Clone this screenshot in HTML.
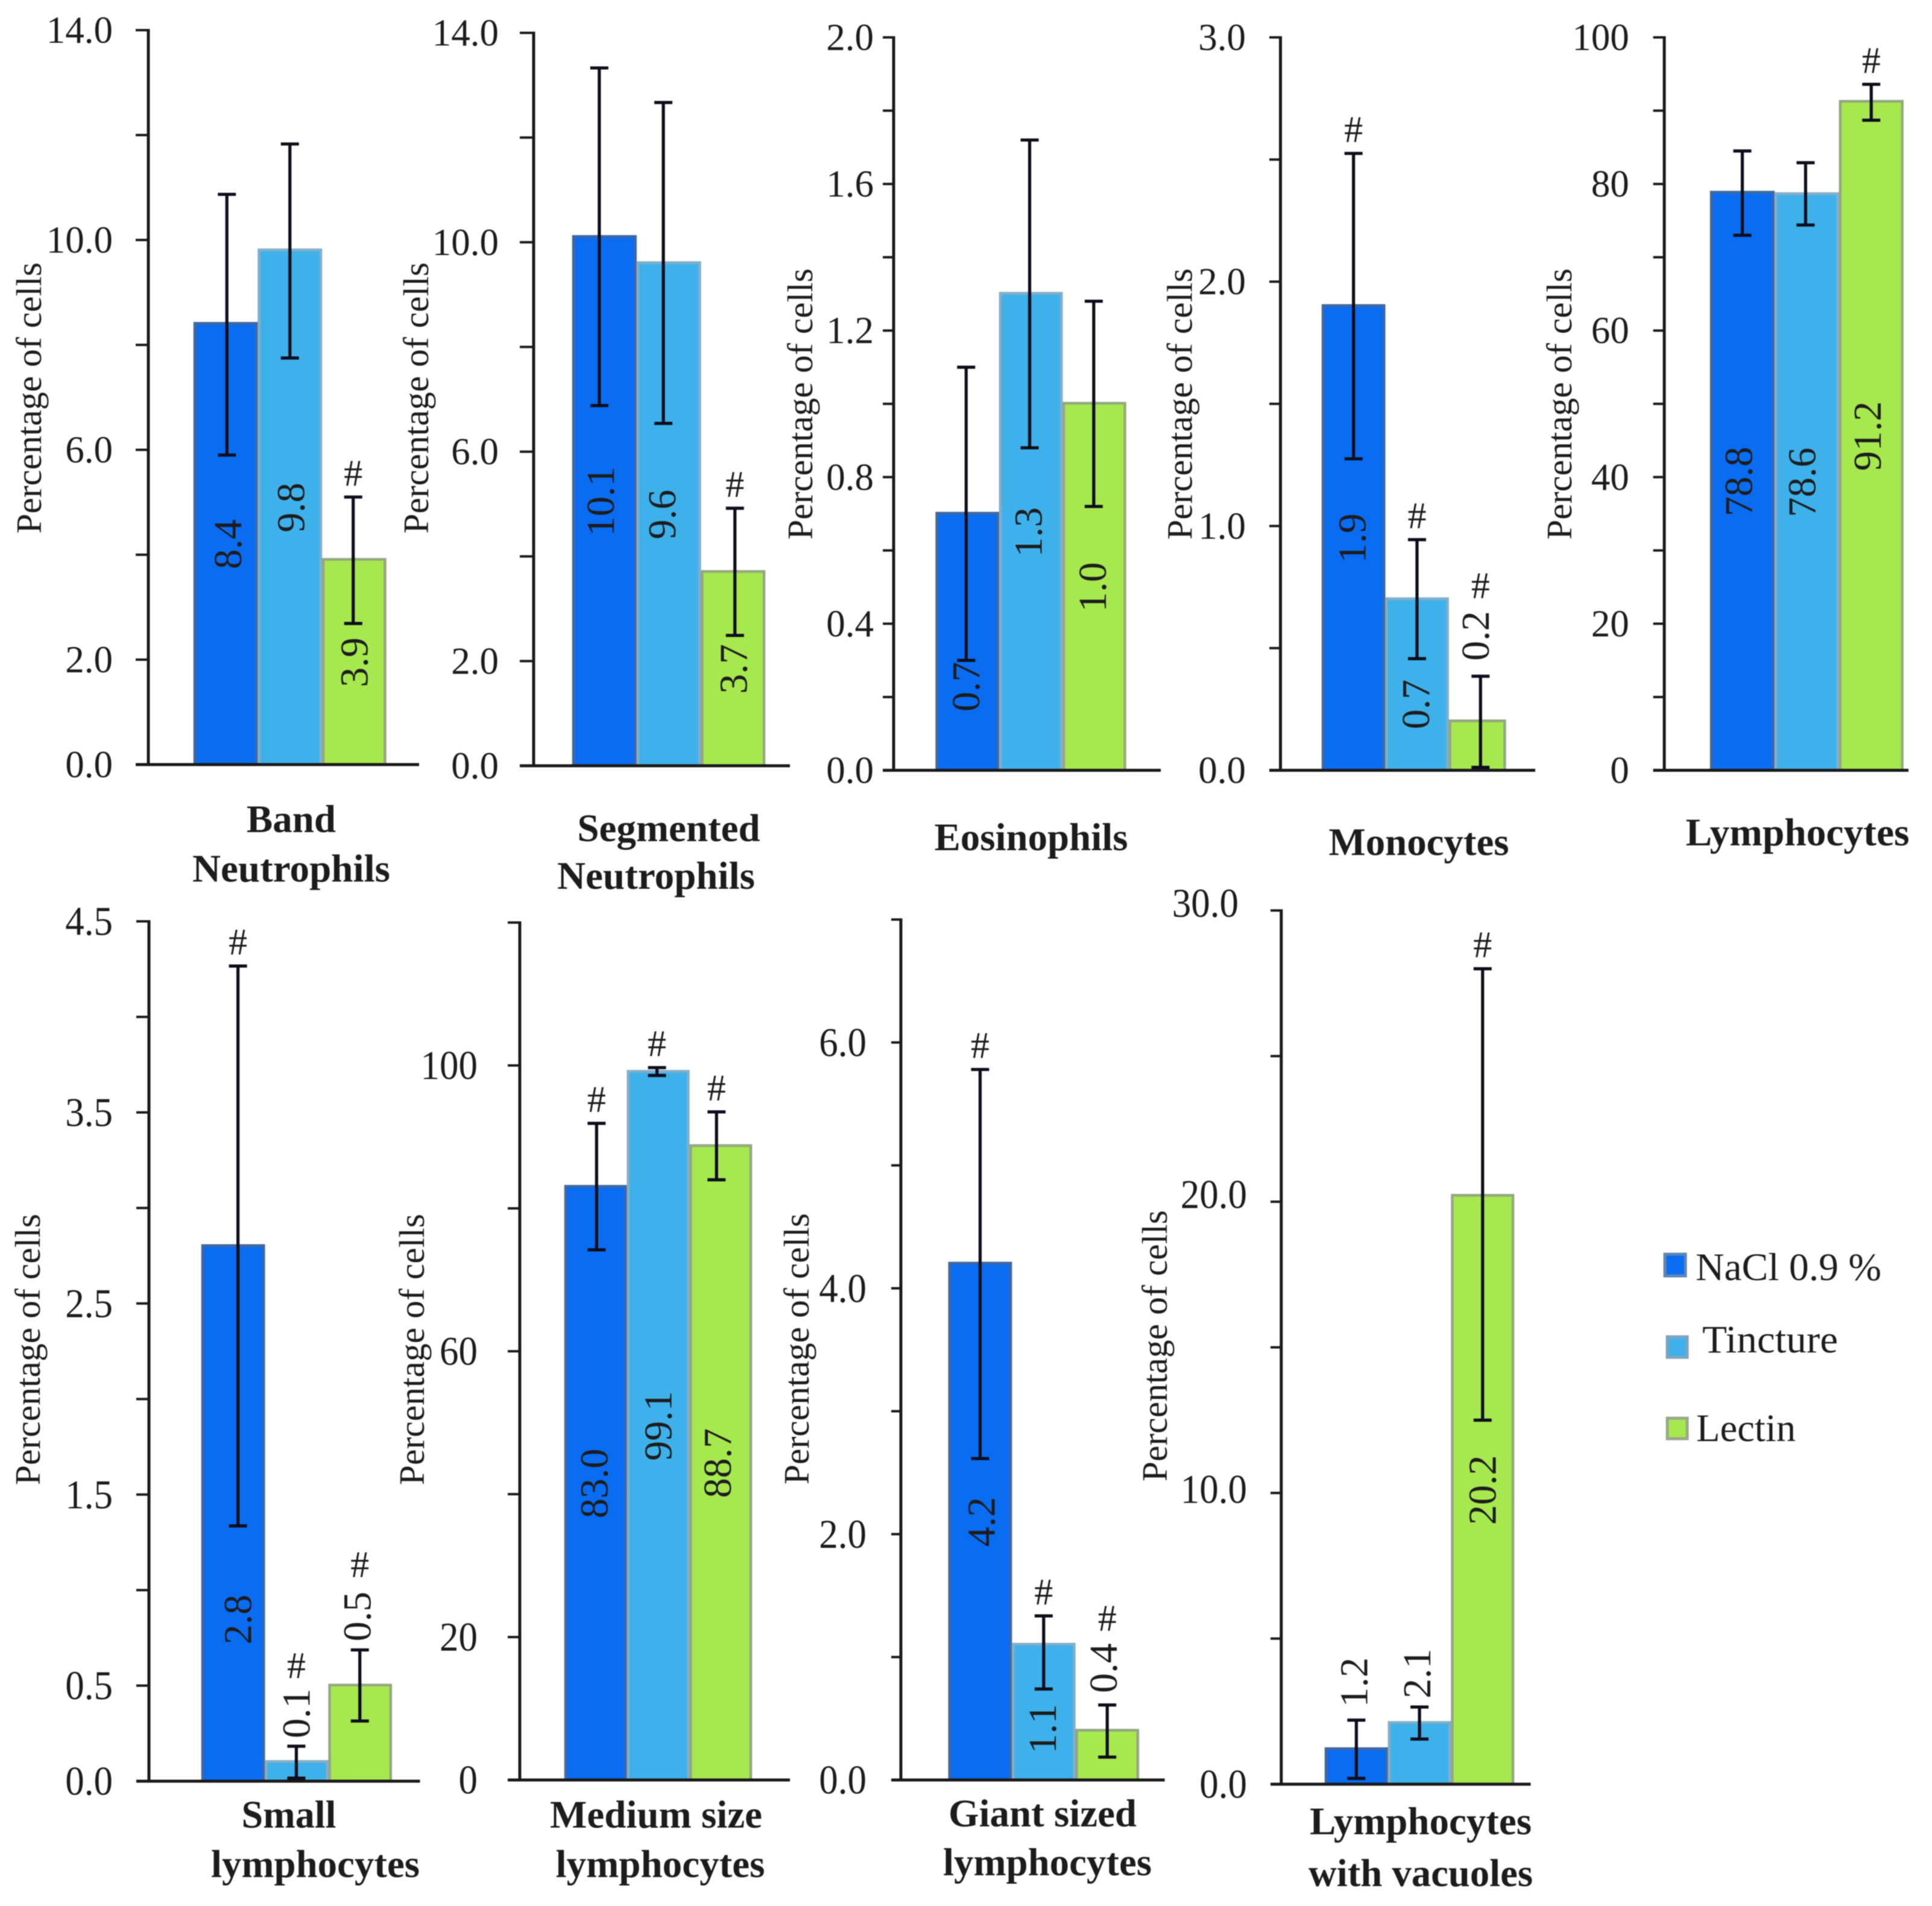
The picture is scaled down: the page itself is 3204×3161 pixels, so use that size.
<!DOCTYPE html>
<html lang="en">
<head>
<meta charset="utf-8">
<title>Percentage of leukocyte cell types by treatment</title>
<style>
html,body{margin:0;padding:0;background:#fff;width:3204px;height:3161px;overflow:hidden}
svg{display:block;filter:blur(.7px)}
text{font-family:"Liberation Serif",serif;fill:#1c1c1c}
</style>
</head>
<body>
<svg id="figure" xmlns="http://www.w3.org/2000/svg" width="3204" height="3161" viewBox="0 0 3204 3161">
  <rect x="0" y="0" width="3204" height="3161" fill="#ffffff"/>
  <g>
    <g>
      <rect x="2761" y="2080" width="34" height="36" fill="#0a6cf0" stroke="#5b86b8" stroke-width="5"/>
      <text x="2812" y="2123" font-size="65" textLength="308" lengthAdjust="spacingAndGlyphs">NaCl 0.9 %</text>
    </g>
    <g>
      <rect x="2765" y="2217" width="33" height="34" fill="#3fb1ea" stroke="#7fa3bd" stroke-width="5"/>
      <text x="2823" y="2243" font-size="65" textLength="225" lengthAdjust="spacingAndGlyphs">Tincture</text>
    </g>
    <g>
      <rect x="2765" y="2352" width="33" height="34" fill="#a6e84e" stroke="#98a98a" stroke-width="5"/>
      <text x="2813" y="2390" font-size="65" textLength="165" lengthAdjust="spacingAndGlyphs">Lectin</text>
    </g>
  </g>
</svg>
<script>
/* ---------- chart data ---------- */
const seriesNames = ['NaCl 0.9 %', 'Tincture', 'Lectin'];

const bandValues = [8.4, 9.8, 3.9];
const bandErrHigh = [10.87, 11.83, 5.1];
const bandErrLow = [5.9, 7.75, 2.69];
const bandTicks = [0, 2, 4, 6, 8, 10, 12, 14];
const bandTickLabels = ['0.0', '2.0', '', '6.0', '', '10.0', '', '14.0'];
const bandHash = [false, false, true];

const segmentedValues = [10.1, 9.6, 3.7];
const segmentedErrHigh = [13.33, 12.67, 4.92];
const segmentedErrLow = [6.88, 6.54, 2.49];
const segmentedTicks = [0, 2, 4, 6, 8, 10, 12, 14];
const segmentedTickLabels = ['0.0', '2.0', '', '6.0', '', '10.0', '', '14.0'];
const segmentedHash = [false, false, true];

const eosinophilValues = [0.7, 1.3, 1.0];
const eosinophilErrHigh = [1.1, 1.72, 1.28];
const eosinophilErrLow = [0.3, 0.88, 0.72];
const eosinophilTicks = [0, 0.2, 0.4, 0.6, 0.8, 1.0, 1.2, 1.4, 1.6, 1.8, 2.0];
const eosinophilTickLabels = ['0.0', '', '0.4', '', '0.8', '', '1.2', '', '1.6', '', '2.0'];
const eosinophilHash = [false, false, false];
const eosinophilLabelAt = [0.228, null, null];

const monocyteValues = [1.9, 0.7, 0.2];
const monocyteErrHigh = [2.525, 0.944, 0.385];
const monocyteErrLow = [1.275, 0.457, 0.012];
const monocyteTicks = [0, 0.5, 1, 1.5, 2, 2.5, 3];
const monocyteTickLabels = ['0.0', '', '1.0', '', '2.0', '', '3.0'];
const monocyteHash = [true, true, true];
const monocyteLabelAt = [null, 0.27, 0.55];
const monocyteHashAt = [null, null, 0.697];

const lymphocyteValues = [78.8, 78.6, 91.2];
const lymphocyteErrHigh = [84.5, 82.9, 93.6];
const lymphocyteErrLow = [73, 74.4, 88.7];
const lymphocyteTicks = [0, 10, 20, 30, 40, 50, 60, 70, 80, 90, 100];
const lymphocyteTickLabels = ['0', '', '20', '', '40', '', '60', '', '80', '', '100'];
const lymphocyteHash = [false, false, true];

const smallValues = [2.8, 0.1, 0.5];
const smallErrHigh = [4.266, 0.183, 0.687];
const smallErrLow = [1.336, 0.016, 0.315];
const smallTicks = [0, 0.5, 1, 1.5, 2, 2.5, 3, 3.5, 4, 4.5];
const smallTickLabels = ['0.0', '0.5', '', '1.5', '', '2.5', '', '3.5', '', '4.5'];
const smallHash = [true, true, true];
const smallLabelAt = [0.846, 0.355, 0.862];
const smallHashAt = [null, 0.53, 1.058];

const mediumValues = [83.0, 99.1, 88.7];
const mediumErrHigh = [91.9, 99.7, 93.5];
const mediumErrLow = [74.2, 98.6, 84];
const mediumTicks = [0, 20, 40, 60, 80, 100, 120];
const mediumTickLabels = ['0', '20', '', '60', '', '100', ''];
const mediumHash = [true, true, true];

const giantValues = [4.2, 1.1, 0.4];
const giantErrHigh = [5.78, 1.335, 0.61];
const giantErrLow = [2.615, 0.74, 0.186];
const giantTicks = [0, 1, 2, 3, 4, 5, 6, 7];
const giantTickLabels = ['0.0', '', '2.0', '', '4.0', '', '6.0', ''];
const giantHash = [true, true, true];
const giantLabelAt = [null, 0.417, 0.91];
const giantHashAt = [null, null, 1.2];

const vacuoleValues = [1.2, 2.1, 20.2];
const vacuoleErrHigh = [2.2, 2.65, 28.0];
const vacuoleErrLow = [0.2, 1.55, 12.5];
const vacuoleTicks = [0, 5, 10, 15, 20, 25, 30];
const vacuoleTickLabels = ['0.0', '', '10.0', '', '20.0', '', '30.0'];
const vacuoleHash = [false, false, true];
const vacuoleLabelAt = [3.5, 3.8, null];

/* ---------- panel layout (geometry only, values come from the arrays above) ---------- */
const panels = [
  {id:'band-neutrophils', values:bandValues, high:bandErrHigh, low:bandErrLow, ticks:bandTicks, tickLabels:bandTickLabels, hash:bandHash,
   axisX:246, top:50, base:1268, axisEnd:695, tickLeft:225, labelRight:187, barLeft:321, barStep:106.5, errDx:[2,0,-1.5], labelDx:[0,0,0], textSY:1,
   yLabelX:68, yLabelY:660, titles:[['Band',483,1380,null],['Neutrophils',483,1462,328]]},
  {id:'segmented-neutrophils', values:segmentedValues, high:segmentedErrHigh, low:segmentedErrLow, ticks:segmentedTicks, tickLabels:segmentedTickLabels, hash:segmentedHash,
   axisX:885, top:54.5, base:1270, axisEnd:1310, tickLeft:862, labelRight:827, barLeft:949, barStep:106.7, errDx:[-8.5,-9,3], labelDx:[0,-4,-4], textSY:1,
   yLabelX:710, yLabelY:660, titles:[['Segmented',1109,1395,null],['Neutrophils',1088,1474,328]]},
  {id:'eosinophils', values:eosinophilValues, high:eosinophilErrHigh, low:eosinophilErrLow, ticks:eosinophilTicks, tickLabels:eosinophilTickLabels, hash:eosinophilHash, labelAt:eosinophilLabelAt,
   axisX:1482, top:62, base:1277.5, axisEnd:1925, tickLeft:1464, labelRight:1449, barLeft:1551.6, barStep:105.3, errDx:[-2,-2,-1], labelDx:[-2,-4,-4], textSY:1,
   yLabelX:1347, yLabelY:670, titles:[['Eosinophils',1710,1410,321]]},
  {id:'monocytes', values:monocyteValues, high:monocyteErrHigh, low:monocyteErrLow, ticks:monocyteTicks, tickLabels:monocyteTickLabels, hash:monocyteHash, labelAt:monocyteLabelAt, hashAt:monocyteHashAt,
   axisX:2123.5, top:62, base:1277.5, axisEnd:2546, tickLeft:2105, labelRight:2066, barLeft:2192, barStep:105.3, barFrac:[1,1,0.9], errDx:[0,0,0], labelDx:[-4,-4,-10], textSY:1,
   yLabelX:1976.5, yLabelY:670, titles:[['Monocytes',2353,1418,299]]},
  {id:'lymphocytes', values:lymphocyteValues, high:lymphocyteErrHigh, low:lymphocyteErrLow, ticks:lymphocyteTicks, tickLabels:lymphocyteTickLabels, hash:lymphocyteHash,
   axisX:2760, top:62, base:1277.5, axisEnd:3165, tickLeft:2741.6, labelRight:2701.7, barLeft:2836, barStep:106.9, errDx:[0,-2,0], labelDx:[-8,-8,-8], textSY:1,
   yLabelX:2606, yLabelY:670, titles:[['Lymphocytes',2981,1402,371]]},
  {id:'small-lymphocytes', values:smallValues, high:smallErrHigh, low:smallErrLow, ticks:smallTicks, tickLabels:smallTickLabels, hash:smallHash, labelAt:smallLabelAt, hashAt:smallHashAt,
   axisX:247, top:1528, base:2954, axisEnd:696.5, tickLeft:226, labelRight:187, barLeft:334, barStep:105.3, errDx:[8,-0.5,-0.5], labelDx:[-2,-2,-6], textSY:1.08,
   yLabelX:66, yLabelY:2238, titles:[['Small',479,3031,157],['lymphocytes',523,3113,346]]},
  {id:'medium-lymphocytes', values:mediumValues, high:mediumErrHigh, low:mediumErrLow, ticks:mediumTicks, tickLabels:mediumTickLabels, hash:mediumHash,
   axisX:862, top:1530, base:2952, axisEnd:1310, tickLeft:842, labelRight:792, barLeft:936, barStep:103.7, errDx:[1.5,-2,-7], labelDx:[-6,0,0], textSY:1.08,
   yLabelX:703, yLabelY:2238, titles:[['Medium size',1088,3031,352],['lymphocytes',1095,3113,347]]},
  {id:'giant-lymphocytes', values:giantValues, high:giantErrHigh, low:giantErrLow, ticks:giantTicks, tickLabels:giantTickLabels, hash:giantHash, labelAt:giantLabelAt, hashAt:giantHashAt,
   axisX:1494, top:1525, base:2952, axisEnd:1931.6, tickLeft:1478, labelRight:1437, barLeft:1572.7, barStep:105.4, errDx:[0,0,0], labelDx:[0,-4,-8], textSY:1.08,
   yLabelX:1341, yLabelY:2237, titles:[['Giant sized',1729,3029,312],['lymphocytes',1737,3110,346]]},
  {id:'lymphocytes-with-vacuoles', values:vacuoleValues, high:vacuoleErrHigh, low:vacuoleErrLow, ticks:vacuoleTicks, tickLabels:vacuoleTickLabels, hash:vacuoleHash, labelAt:vacuoleLabelAt,
   axisX:2124.8, top:1510, base:2959, axisEnd:2538.5, tickLeft:2107, labelRight:2068, barLeft:2197, barStep:104.7, errDx:[0,0,0], labelDx:[-6,-6,-2], textSY:1.08,
   tickLabelDx:[0,0,0,0,0,0,-14], tickLabelDy:[0,0,-6,0,-12,0,-12],
   yLabelX:1935, yLabelY:2232, titles:[['Lymphocytes',2356,3042,368],['with vacuoles',2356,3128,372]]}
];

const seriesFill = ['#0a6cf0', '#3fb1ea', '#a6e84e'];
const seriesStroke = ['#41689f', '#84aec9', '#93a880'];
const NS = 'http://www.w3.org/2000/svg';
const root = document.getElementById('figure');
const AXIS = '#1a1a1a';

function make(parent, tag, attrs, text) {
  const el = document.createElementNS(NS, tag);
  for (const k in attrs) el.setAttribute(k, attrs[k]);
  if (text !== undefined) el.textContent = text;
  parent.appendChild(el);
  return el;
}
function slug(s) { return s.toLowerCase().replace(/[^a-z0-9]+/g, '-'); }

panels.forEach(function (p) {
  const yMax = p.ticks[p.ticks.length - 1];
  const yScale = function (v) { return p.base - (v / yMax) * (p.base - p.top); };
  const xLeft = function (i) { return p.barLeft + i * p.barStep; };
  const barW = function (i) { return p.barStep * (p.barFrac ? p.barFrac[i] : 1); };
  const xCenter = function (i) { return xLeft(i) + p.barStep / 2 + p.errDx[i]; };

  const g = make(root, 'g', {});
  
  

  /* bars */
  p.values.forEach(function (v, i) {
    const bar = make(g, 'rect', {
      x: xLeft(i) + 2, y: yScale(v) - 1, width: barW(i) - 4, height: Math.max(p.base - yScale(v) + 1, 1),
      fill: seriesFill[i], stroke: seriesStroke[i], 'stroke-width': 4.5
    });
    
    
  });

  /* y axis with ticks */
  const yAxis = make(g, 'line', {x1: p.axisX, x2: p.axisX, y1: p.top - 2, y2: p.base + 2, stroke: AXIS, 'stroke-width': 5});
  
  
  const xAxis = make(g, 'line', {x1: p.tickLeft, x2: p.axisEnd, y1: p.base, y2: p.base, stroke: AXIS, 'stroke-width': 5});
  
  

  p.ticks.forEach(function (t, i) {
    if (t !== 0) {
      const tick = make(g, 'line', {x1: p.tickLeft, x2: p.axisX, y1: yScale(t), y2: yScale(t), stroke: AXIS, 'stroke-width': 4});
      
      
    }
    if (p.tickLabels[i] !== '') {
      const lx = p.labelRight + (p.tickLabelDx ? p.tickLabelDx[i] : 0);
      const ly = yScale(t) + 21 * p.textSY + (p.tickLabelDy ? p.tickLabelDy[i] : 0);
      const lab = make(g, 'text', {
        x: 0, y: 0, 'font-size': 63, 'text-anchor': 'end',
        transform: 'translate(' + lx + ' ' + ly + ') scale(1 ' + p.textSY + ')'
      }, p.tickLabels[i]);
      
      
    }
  });

  /* error bars */
  p.values.forEach(function (v, i) {
    const cx = xCenter(i);
    const hi = yScale(p.high[i]);
    const lo = yScale(p.low[i]);
    const eg = make(g, 'g', {stroke: '#0d0d1c', 'stroke-width': 5.2, fill: 'none'});
    
    
    make(eg, 'line', {x1: cx, x2: cx, y1: hi, y2: lo});
    make(eg, 'line', {x1: cx - 15, x2: cx + 15, y1: hi, y2: hi});
    make(eg, 'line', {x1: cx - 15, x2: cx + 15, y1: lo, y2: lo});
  });

  /* rotated value labels */
  p.values.forEach(function (v, i) {
    const at = p.labelAt && p.labelAt[i] !== null ? p.labelAt[i] : v / 2;
    const lx = xCenter(i) + 24 + p.labelDx[i];
    const ly = yScale(at);
    const vl = make(g, 'text', {
      x: lx, y: ly, 'font-size': 66, 'text-anchor': 'middle',
      transform: 'rotate(-90 ' + lx + ' ' + ly + ')'
    }, v.toFixed(1));
    
    
  });

  /* significance marks */
  p.values.forEach(function (v, i) {
    if (!p.hash[i]) return;
    const hy = p.hashAt && p.hashAt[i] !== null ? yScale(p.hashAt[i]) - 3 : yScale(p.high[i]) - 19;
    const h = make(g, 'text', {x: xCenter(i), y: hy, 'font-size': 62, 'text-anchor': 'middle'}, '#');
    
    
  });

  /* y axis title */
  const yt = make(g, 'text', {
    x: p.yLabelX, y: p.yLabelY, 'font-size': 59, 'text-anchor': 'middle',
    textLength: 450, lengthAdjust: 'spacingAndGlyphs',
    transform: 'rotate(-90 ' + p.yLabelX + ' ' + p.yLabelY + ')'
  }, 'Percentage of cells');
  
  

  /* chart title lines */
  p.titles.forEach(function (t) {
    const attrs = {x: t[1], y: t[2], 'font-size': 65, 'font-weight': 'bold', 'text-anchor': 'middle'};
    if (t[3]) { attrs.textLength = t[3]; attrs.lengthAdjust = 'spacingAndGlyphs'; }
    const tt = make(g, 'text', attrs, t[0]);
    
    
  });
});
</script>
</body>
</html>
